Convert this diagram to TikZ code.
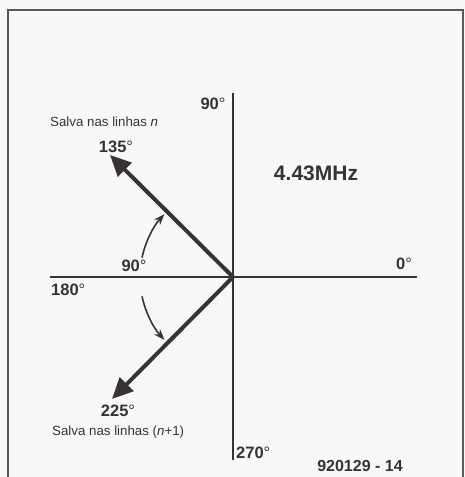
\documentclass[tikz,border=0pt]{standalone}
\usepackage{fontspec}
\setmainfont{Liberation Sans}
\usetikzlibrary{arrows.meta}
\definecolor{paper}{rgb}{0.965,0.972,0.98}
\definecolor{ink}{rgb}{0.22,0.2,0.2}
\newcommand{\dg}{{\mdseries °}}
\tikzset{
  axis/.style={draw=ink, line width=1.6pt},
  vec/.style={draw=ink, line width=4pt, -{Triangle[length=21pt,width=19pt]}},
  curv/.style={draw=ink, line width=1.6pt, -{Stealth[length=11pt,width=8pt]}},
  deg/.style={font=\fontsize{16.5}{18}\selectfont\bfseries, text=ink, inner sep=0pt},
  note/.style={font=\fontsize{13.3}{15}\selectfont, text=ink, inner sep=0pt},
}
\begin{document}
\begin{tikzpicture}[x=1pt,y=-1pt]
\useasboundingbox (0,0) rectangle (465,477);
\fill[paper] (0,0) rectangle (465,477);
\draw[draw=gray!70!black, line width=2pt] (8,490) -- (8,10) -- (463,10) -- (463,490);
\coordinate (O) at (233,277);
\coordinate (top) at (233,93);
\coordinate (bot) at (233,460);
\coordinate (left) at (50,277);
\coordinate (right) at (417,277);
\coordinate (p135) at (110,155);
\coordinate (p225) at (112,399);
\draw[axis] (top) -- (bot);
\draw[axis] (left) -- (right);
\draw[vec] (O) -- (p135);
\draw[vec] (O) -- (p225);
\draw[curv] ([shift={(192:93)}]O) arc[start angle=192, end angle=222.5, radius=93];
\draw[curv] ([shift={(168:93)}]O) arc[start angle=168, end angle=137.5, radius=93];
\node[deg] (t90) at (213,104) {90\dg};
\node[note, anchor=west] (s1) at (50,122) {Salva nas linhas \textit{n}};
\node[deg] (t135) at (116,147) {135\dg};
\node[font=\fontsize{21}{24}\selectfont\bfseries, text=ink, inner sep=0pt] (freq) at (316,173) {4.43MHz};
\node[deg] (t90b) at (134,266) {90\dg};
\node[deg, anchor=west] (t180) at (51,290) {180\dg};
\node[deg] (t0) at (404,264) {0\dg};
\node[deg] (t225) at (118,411) {225\dg};
\node[note, anchor=west] (s2) at (52,432) {Salva nas linhas (\textit{n}+1)};
\node[deg, anchor=west] (t270) at (236,453) {270\dg};
\node[font=\fontsize{16}{18}\selectfont\bfseries, text=ink, inner sep=0pt] (code) at (360,466) {920129 - 14};
\end{tikzpicture}
\end{document}
